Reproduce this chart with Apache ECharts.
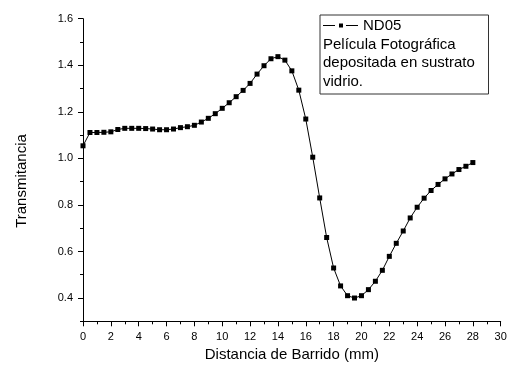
<!DOCTYPE html>
<html>
<head>
<meta charset="utf-8">
<script src="https://cdn.jsdelivr.net/npm/echarts@6/dist/echarts.min.js"></script>
<style>
html,body{margin:0;padding:0;background:#fff;}
#chart{width:510px;height:371px;}
</style>
</head>
<body>
<div id="chart"></div>
<script>
// Data
const distance = [0, 0.5, 1, 1.5, 2, 2.5, 3, 3.5, 4, 4.5, 5, 5.5, 6, 6.5, 7, 7.5, 8, 8.5, 9, 9.5,
  10, 10.5, 11, 11.5, 12, 12.5, 13, 13.5, 14, 14.5, 15, 15.5, 16, 16.5, 17, 17.5, 18, 18.5, 19, 19.5,
  20, 20.5, 21, 21.5, 22, 22.5, 23, 23.5, 24, 24.5, 25, 25.5, 26, 26.5, 27, 27.5, 28];
const transmitancia = [1.054, 1.111, 1.111, 1.112, 1.114, 1.124, 1.129, 1.129, 1.129, 1.128,
  1.126, 1.123, 1.123, 1.126, 1.132, 1.136, 1.142, 1.156, 1.172, 1.192,
  1.215, 1.239, 1.265, 1.292, 1.322, 1.362, 1.398, 1.428, 1.437, 1.422,
  1.376, 1.293, 1.169, 1.005, 0.830, 0.660, 0.529, 0.452, 0.410, 0.400,
  0.410, 0.436, 0.472, 0.519, 0.579, 0.635, 0.688, 0.744, 0.790, 0.829,
  0.862, 0.888, 0.912, 0.933, 0.952, 0.966, 0.982];
const yMajorTicks = [0.4, 0.6, 0.8, 1.0, 1.2, 1.4, 1.6];
const yMinorTicks = [0.3, 0.5, 0.7, 0.9, 1.1, 1.3, 1.5];
const seriesName = 'ND05';
const legendNote = ['Película Fotográfica', 'depositada en sustrato', 'vidrio.'];
const xTitle = 'Distancia de Barrido (mm)';
const yTitle = 'Transmitancia';

const FONT = '"Liberation Sans", Arial, sans-serif';
const chart = echarts.init(document.getElementById('chart'), null, {renderer: 'canvas'});

const points = distance.map((d, i) => [d, transmitancia[i]]);

const option = {
  animation: false,
  backgroundColor: '#fff',
  textStyle: {fontFamily: FONT},
  grid: {left: 83, right: 9.3, top: 18.7, bottom: 49.7},
  xAxis: {
    type: 'value', min: 0, max: 30, interval: 2,
    name: xTitle, nameLocation: 'middle', nameGap: 26,
    nameTextStyle: {fontFamily: FONT, fontSize: 15, color: '#000'},
    axisLine: {show: true, onZero: false, lineStyle: {color: '#000', width: 1}},
    axisTick: {show: true, inside: false, length: 5, lineStyle: {color: '#000'}},
    minorTick: {show: true, splitNumber: 2, length: 3, lineStyle: {color: '#000'}},
    axisLabel: {fontFamily: FONT, fontSize: 11, color: '#000', margin: 10},
    splitLine: {show: false}, minorSplitLine: {show: false}
  },
  yAxis: [{
    type: 'value', min: 0.3, max: 1.6,
    name: yTitle, nameLocation: 'middle', nameGap: 54,
    nameTextStyle: {fontFamily: FONT, fontSize: 15, color: '#000', padding: [0, 22, 0, 0]},
    axisLine: {show: true, onZero: false, lineStyle: {color: '#000', width: 1}},
    axisTick: {show: true, inside: false, length: 5, customValues: yMajorTicks, lineStyle: {color: '#000'}},
    axisLabel: {fontFamily: FONT, fontSize: 11, color: '#000', margin: 10,
      customValues: yMajorTicks, formatter: v => Number(v).toFixed(1)},
    splitLine: {show: false}
  }, {
    type: 'value', min: 0.3, max: 1.6, position: 'left', offset: 0,
    axisLine: {show: false},
    axisTick: {show: true, inside: false, length: 3, customValues: yMinorTicks, lineStyle: {color: '#000'}},
    axisLabel: {show: false},
    splitLine: {show: false}
  }],
  legend: {
    left: 323, top: 18, padding: 0,
    itemWidth: 35, itemHeight: 5,
    icon: 'path://M0,2H12V3H0Z M16,0.5H20V4.5H16Z M23,2H35V3H23Z',
    textStyle: {fontFamily: FONT, fontSize: 15, color: '#000'},
    data: [{name: seriesName, itemStyle: {color: '#000'}}]
  },
  graphic: [{
    type: 'rect', left: 319.5, top: 14.5, z: 0,
    shape: {width: 168.5, height: 79},
    style: {fill: '#fff', stroke: '#333', lineWidth: 1}
  }, {
    type: 'text', left: 323, top: 35.5, z: 10,
    style: {text: legendNote.join('\n'), font: '15px ' + FONT, fill: '#000', lineHeight: 18.4}
  }],
  series: [{
    name: seriesName, type: 'line', yAxisIndex: 0,
    data: points,
    symbol: 'rect', symbolSize: 5,
    itemStyle: {color: '#000'},
    lineStyle: {color: '#000', width: 1},
    z: 5
  }]
};
chart.setOption(option);
</script>
</body>
</html>
